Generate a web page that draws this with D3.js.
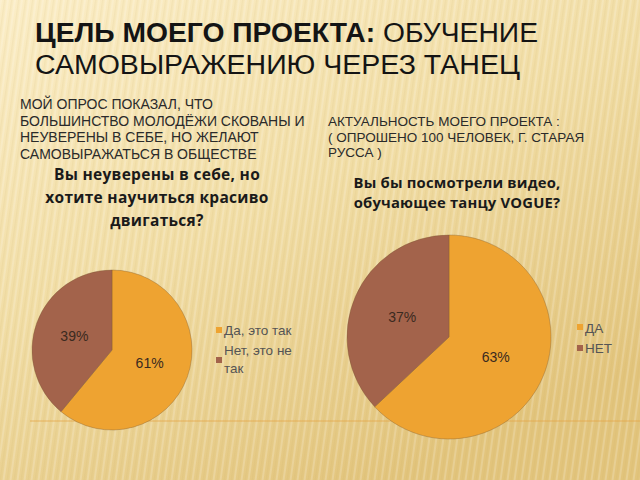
<!DOCTYPE html>
<html><head><meta charset="utf-8">
<script src="https://cdn.jsdelivr.net/npm/d3@7"></script>
<style>html,body{margin:0;padding:0;overflow:hidden;background:#f3dfa8}</style>
</head><body>
<svg id="c" width="640" height="480"></svg>
<script>
// ---- data ----
const titleBold = "ЦЕЛЬ МОЕГО ПРОЕКТА:";
const titleRest = " ОБУЧЕНИЕ";
const titleLine2 = "САМОВЫРАЖЕНИЮ ЧЕРЕЗ ТАНЕЦ";
const leftNote = ["МОЙ ОПРОС ПОКАЗАЛ, ЧТО", "БОЛЬШИНСТВО МОЛОДЁЖИ СКОВАНЫ И", "НЕУВЕРЕНЫ В СЕБЕ, НО ЖЕЛАЮТ", "САМОВЫРАЖАТЬСЯ В ОБЩЕСТВЕ"];
const rightNote = ["АКТУАЛЬНОСТЬ МОЕГО ПРОЕКТА :", "( ОПРОШЕНО 100 ЧЕЛОВЕК,  Г. СТАРАЯ", "РУССА )"];
const chart1Title = ["Вы неуверены в себе, но", "хотите научиться красиво", "двигаться?"];
const chart1Cats = ["Да, это так", "Нет, это не так"];
const chart1Vals = [61, 39];
const chart2Title = ["Вы бы посмотрели видео,", "обучающее танцу VOGUE?"];
const chart2Cats = ["ДА", "НЕТ"];
const chart2Vals = [63, 37];
const sliceColors = ["#eea331", "#a3634b"];

const svg = d3.select("#c");
const defs = svg.append("defs");
const g1 = defs.append("linearGradient").attr("id","bg").attr("x1","0").attr("y1","0").attr("x2","0.6").attr("y2","1");
g1.append("stop").attr("offset","0").attr("stop-color","#fbedc6");
g1.append("stop").attr("offset","0.5").attr("stop-color","#f1dda5");
g1.append("stop").attr("offset","1").attr("stop-color","#e2c47c");
const pat = defs.append("pattern").attr("id","str").attr("width",7).attr("height",480)
  .attr("patternUnits","userSpaceOnUse").attr("patternTransform","skewX(-8)");
pat.append("rect").attr("width",2).attr("height",480).attr("fill","#ffffff").attr("opacity",0.18);
pat.append("rect").attr("x",4).attr("width",1.5).attr("height",480).attr("fill","#c9a55a").attr("opacity",0.10);
svg.append("rect").attr("width",640).attr("height",480).attr("fill","url(#bg)");
svg.append("rect").attr("width",640).attr("height",480).attr("fill","url(#str)");

const SANS = "'Liberation Sans', Arial, sans-serif";
// header
const t = svg.append("text").attr("x",35).attr("y",42).attr("font-family",SANS)
  .attr("font-size",27).attr("fill","#141414").attr("textLength",503).attr("lengthAdjust","spacingAndGlyphs");
t.append("tspan").attr("font-weight","bold").text(titleBold);
t.append("tspan").text(titleRest);
svg.append("text").attr("x",35).attr("y",74).attr("font-family",SANS)
  .attr("font-size",27).attr("fill","#141414").attr("textLength",485).attr("lengthAdjust","spacingAndGlyphs").text(titleLine2);

svg.append("g").selectAll("text").data(leftNote).join("text")
  .attr("x",20).attr("y",(d,i)=>109+i*16.7).attr("font-family",SANS)
  .attr("font-size",14).attr("fill","#2a2a2a").text(d=>d);
const rY = [126,142,157];
svg.append("g").selectAll("text").data(rightNote).join("text")
  .attr("x",328).attr("y",(d,i)=>rY[i]).attr("font-family",SANS)
  .attr("font-size",13.5).attr("fill","#2a2a2a").text(d=>d);

// separator line
svg.append("line").attr("x1",30).attr("x2",640).attr("y1",421).attr("y2",421)
  .attr("stroke","#e6a84a").attr("stroke-width",1).attr("opacity",0.8);

function drawPie(cfg){
  const pie = d3.pie().sort(null).value(d=>d);
  const arcs = pie(cfg.vals);
  const arc = d3.arc().innerRadius(0).outerRadius(cfg.r);
  const g = svg.append("g").attr("transform",`translate(${cfg.cx},${cfg.cy})`);
  g.selectAll("path").data(arcs).join("path").attr("d",arc)
    .attr("fill",(d,i)=>sliceColors[i]).attr("stroke","#7a5a30").attr("stroke-width",0.6).attr("stroke-opacity",0.6);
  g.selectAll("text").data(arcs).join("text")
    .attr("transform",d=>`translate(${arc.centroid(d)})`).attr("dy","0.35em").attr("text-anchor","middle")
    .attr("font-family",SANS).attr("font-size",14).attr("fill","#3a2a20")
    .text(d=>d.data+"%");
  // title
  svg.append("g").selectAll("text").data(cfg.title).join("text")
    .attr("x",cfg.tx).attr("y",(d,i)=>cfg.ty+i*cfg.tdy).attr("text-anchor","middle")
    .attr("font-family","'Open Sans', sans-serif").attr("font-weight","bold").attr("font-size",cfg.tfs)
    .attr("fill","#1a1a1a").attr("letter-spacing",cfg.tls).text(d=>d);
  // legend
  const lg = svg.append("g");
  cfg.legend.forEach((L,i)=>{
    lg.append("rect").attr("x",cfg.lx).attr("y",L.sy-3).attr("width",6).attr("height",6).attr("fill",sliceColors[i]);
    L.lines.forEach((ln,j)=>{
      lg.append("text").attr("x",cfg.lx+8).attr("y",L.ty+j*18)
        .attr("font-family",SANS).attr("font-size",13.5).attr("fill","#555")
        .text(ln);
    });
  });
}

drawPie({cx:112, cy:350, r:80, vals:chart1Vals, title:chart1Title, tx:157, ty:180, tdy:23, tfs:15.5, tls:0.3,
  lx:216, legend:[
    {sy:330, ty:335, lines:[chart1Cats[0]]},
    {sy:360, ty:355, lines:["Нет, это не","так"]}
  ]});
drawPie({cx:449, cy:337, r:102, vals:chart2Vals, title:chart2Title, tx:457, ty:188, tdy:20, tfs:14.8, tls:0.2,
  lx:577, legend:[
    {sy:327, ty:333, lines:[chart2Cats[0]]},
    {sy:348, ty:353, lines:[chart2Cats[1]]}
  ]});
</script>
</body></html>
